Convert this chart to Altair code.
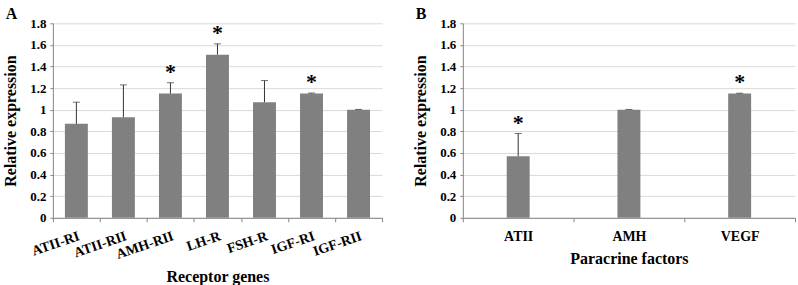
import altair as alt
import pandas as pd

# Panel A data
genes = ["ATII-RI", "ATII-RII", "AMH-RII", "LH-R", "FSH-R", "IGF-RI", "IGF-RII"]
gene_values = [0.87, 0.93, 1.15, 1.51, 1.07, 1.15, 1.00]
gene_errors = [0.20, 0.30, 0.10, 0.10, 0.20, 0.004, 0.003]
gene_sig = ["", "", "*", "*", "", "*", ""]

# Panel B data
factors = ["ATII", "AMH", "VEGF"]
factor_values = [0.57, 1.00, 1.15]
factor_errors = [0.21, 0.003, 0.003]
factor_sig = ["*", "", "*"]

y_ticks = [0, 0.2, 0.4, 0.6, 0.8, 1.0, 1.2, 1.4, 1.6, 1.8]

FONT = "Liberation Serif"


def make_df(cats, vals, errs, sig):
    return pd.DataFrame({
        "cat": cats,
        "value": vals,
        "upper": [v + e for v, e in zip(vals, errs)],
        "sig": sig,
    })


def panel(df, cats, xtitle, angle, letter, lpad, tpad, width):
    xaxis = alt.Axis(labelAngle=angle, tickBand="extent", grid=False,
                     labelPadding=lpad, titlePadding=tpad, tickSize=4,
                     labelFontSize=14,
                     labelAlign="right" if angle else "center",
                     labelBaseline="top")
    xscale = alt.Scale(paddingInner=0, paddingOuter=0)
    yaxis = alt.Axis(values=y_ticks, format="~g", grid=True, gridColor="#d9d9d9",
                     labelOverlap=False, tickSize=3, labelPadding=4, titlePadding=11,
                     tickCount=10)
    yscale = alt.Scale(domain=[0, 1.8], nice=False)

    def X():
        return alt.X("cat:N", sort=cats, title=xtitle, scale=xscale, axis=xaxis)

    def Y(field):
        return alt.Y(field, title="Relative expression", scale=yscale, axis=yaxis)

    base = alt.Chart(df)
    bars = base.mark_bar(size=23, color="#808080").encode(x=X(), y=Y("value:Q"))
    rule = base.mark_rule(color="#333333", strokeWidth=1).encode(
        x=X(), y=Y("value:Q"), y2="upper:Q")
    cap = base.mark_tick(color="#333333", size=7, thickness=1, orient="horizontal").encode(
        x=X(), y=Y("upper:Q"))
    star = base.mark_text(font=FONT, fontSize=22, fontWeight="bold", color="black",
                          baseline="bottom", dy=1).encode(
        x=X(), y=Y("upper:Q"), text="sig:N")
    return alt.layer(bars, rule, cap, star).properties(
        width=width, height=195,
        title=alt.TitleParams(letter, anchor="start", frame="bounds", font=FONT,
                              fontSize=16, fontWeight="bold", color="black", offset=-5,
                              dx=3),
    )


a = panel(make_df(genes, gene_values, gene_errors, gene_sig), genes,
          "Receptor genes", -19, "A", 7, 7, 330)
b = panel(make_df(factors, factor_values, factor_errors, factor_sig), factors,
          "Paracrine factors", 0, "B", 8, 7, 333)

chart = alt.hconcat(a, b, spacing=29).configure(
    padding={"left": 2, "top": 6, "right": 2, "bottom": 2}
).configure_view(stroke=None).configure_axis(
    labelFont=FONT, labelFontWeight="bold", labelFontSize=13, labelColor="black",
    titleFont=FONT, titleFontWeight="bold", titleFontSize=16, titleColor="black",
    domainColor="#868686", tickColor="#868686",
)

chart.save("out.html", embed_options={"renderer": "svg", "actions": False})
